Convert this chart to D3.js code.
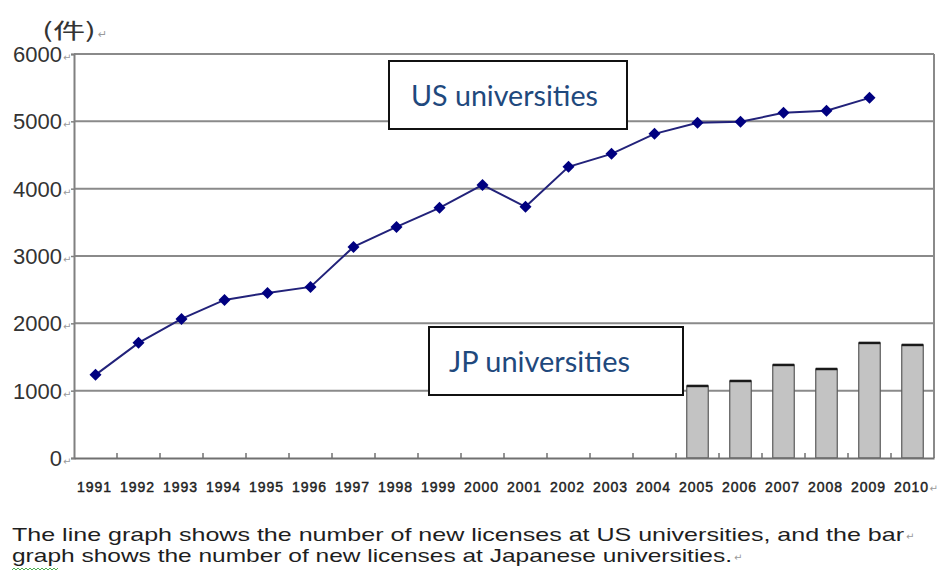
<!DOCTYPE html>
<html>
<head>
<meta charset="utf-8">
<script src="https://cdn.jsdelivr.net/npm/d3@7"></script>
<style>
  html, body { margin: 0; padding: 0; background: #fff; }
  svg { display: block; }
</style>
</head>
<body>
<svg id="chart" width="937" height="573"></svg>
<script>
// New licenses per year: US universities (line) and Japanese universities (bars)
const years = ["1991","1992","1993","1994","1995","1996","1997","1998","1999","2000",
               "2001","2002","2003","2004","2005","2006","2007","2008","2009","2010"];
const usYears = years.slice(0, 19);
const usLicenses = [1235, 1710, 2065, 2348, 2452, 2541, 3135, 3432, 3715, 4056,
                    3730, 4324, 4517, 4814, 4978, 4993, 5126, 5156, 5349];
const jpYears = ["2005","2006","2007","2008","2009","2010"];
const jpLicenses = [1070, 1144, 1382, 1322, 1709, 1679];
const yTicks = [0, 1000, 2000, 3000, 4000, 5000, 6000];
const unitLabel = "(件)";
const usLabel = "US universities";
const jpLabel = "JP universities";
const captionLines = [
  "The line graph shows the number of new licenses at US universities, and the bar",
  "graph shows the number of new licenses at Japanese  universities."
];
const RET = "\u21B5";

const svg = d3.select("#chart");
const plot = { left: 74, right: 934, top: 54, bottom: 458 };

const x = d3.scaleBand().domain(years).range([plot.left, plot.right]).padding(0);
const y = d3.scaleLinear().domain([0, 6000]).range([plot.bottom, plot.top]);
const cx = d => x(d) + x.bandwidth() / 2;

function retMark(px, py, size) {
  svg.append("text")
    .attr("x", px).attr("y", py)
    .attr("font-family", "DejaVu Sans, sans-serif")
    .attr("font-size", size)
    .attr("fill", "#9a9a9a")
    .text(RET);
}

// horizontal gridlines
svg.append("g")
  .selectAll("line")
  .data(yTicks.filter(v => v > 0))
  .join("line")
  .attr("x1", plot.left).attr("x2", plot.right)
  .attr("y1", d => y(d)).attr("y2", d => y(d))
  .attr("stroke", "#8a8a8a").attr("stroke-width", 2);

// right frame edge
svg.append("line")
  .attr("x1", plot.right).attr("x2", plot.right)
  .attr("y1", y(6000)).attr("y2", y(0))
  .attr("stroke", "#8a8a8a").attr("stroke-width", 2);

// y axis
const yAxis = svg.append("g")
  .attr("transform", `translate(${plot.left},0)`)
  .call(d3.axisLeft(y).tickValues(yTicks).tickSize(3).tickFormat(""));
yAxis.select(".domain").attr("stroke", "#808080").attr("stroke-width", 2);
yAxis.selectAll(".tick line").attr("stroke", "#808080").attr("stroke-width", 1.5);

// y tick labels with paragraph marks
const yLab = svg.append("g");
yTicks.forEach(v => {
  yLab.append("text")
    .attr("x", 62).attr("y", y(v) + 8)
    .attr("text-anchor", "end")
    .attr("font-family", "Liberation Sans, Arial, sans-serif")
    .attr("font-size", 22)
    .attr("fill", "#333")
    .text(d3.format("d")(v));
  retMark(63, y(v) + 7, 10);
});

// unit label
svg.append("text")
  .attr("x", 42).attr("y", 38)
  .attr("font-family", "Noto Sans CJK JP, sans-serif")
  .attr("font-size", 21)
  .attr("fill", "#333")
  .attr("textLength", 54)
  .attr("lengthAdjust", "spacingAndGlyphs")
  .text(unitLabel);
retMark(98, 38, 11);

// Japanese bars
const barW = x.bandwidth() * 0.5;
const jpData = jpYears.map((yr, i) => ({ yr, v: jpLicenses[i] }));
const bars = svg.append("g");
bars.selectAll("rect")
  .data(jpData)
  .join("rect")
  .attr("x", d => cx(d.yr) - barW / 2)
  .attr("y", d => y(d.v))
  .attr("width", barW)
  .attr("height", d => y(0) - y(d.v))
  .attr("fill", "#c3c3c3")
  .attr("stroke", "#5a5a5a")
  .attr("stroke-width", 1.2);
bars.selectAll("line")
  .data(jpData)
  .join("line")
  .attr("x1", d => cx(d.yr) - barW / 2)
  .attr("x2", d => cx(d.yr) + barW / 2)
  .attr("y1", d => y(d.v)).attr("y2", d => y(d.v))
  .attr("stroke", "#1a1a1a").attr("stroke-width", 2.5);

// x axis
const xAxis = svg.append("g")
  .attr("transform", `translate(0,${plot.bottom})`)
  .call(d3.axisBottom(x).tickSize(0).tickFormat(""));
xAxis.select(".domain").attr("stroke", "#707070").attr("stroke-width", 2);
svg.append("g")
  .selectAll("line")
  .data(years.slice(1))
  .join("line")
  .attr("x1", d => x(d)).attr("x2", d => x(d))
  .attr("y1", plot.bottom - 5).attr("y2", plot.bottom)
  .attr("stroke", "#707070").attr("stroke-width", 1.5);

// x labels
svg.append("g")
  .selectAll("text")
  .data(years)
  .join("text")
  .attr("x", d => cx(d) - 1)
  .attr("y", 492)
  .attr("text-anchor", "middle")
  .attr("font-family", "Liberation Sans, Arial, sans-serif")
  .attr("font-size", 14)
  .attr("letter-spacing", 1)
  .attr("fill", "#222")
  .attr("stroke", "#222")
  .attr("stroke-width", 0.45)
  .text(d => d);
retMark(cx("2010") + 17, 492, 10);

// US line
const line = d3.line().x(d => cx(d.yr)).y(d => y(d.v));
const usData = usYears.map((yr, i) => ({ yr, v: usLicenses[i] }));
svg.append("path")
  .datum(usData)
  .attr("d", line)
  .attr("fill", "none")
  .attr("stroke", "#22227a")
  .attr("stroke-width", 2);
svg.append("g")
  .selectAll("path")
  .data(usData)
  .join("path")
  .attr("d", d3.symbol(d3.symbolSquare, 72)())
  .attr("transform", d => `translate(${cx(d.yr)},${y(d.v)}) rotate(45)`)
  .attr("fill", "#000080");

// label boxes
function labelBox(x0, y0, w, h, text, tx, ty, tlen) {
  svg.append("rect")
    .attr("x", x0).attr("y", y0).attr("width", w).attr("height", h)
    .attr("fill", "#fff").attr("stroke", "#111").attr("stroke-width", 2);
  svg.append("text")
    .attr("x", tx).attr("y", ty)
    .attr("font-family", "Lato, Open Sans, sans-serif")
    .attr("font-size", 28)
    .attr("fill", "#1f497d")
    .attr("textLength", tlen)
    .attr("lengthAdjust", "spacingAndGlyphs")
    .text(text);
}
labelBox(389, 61, 238, 68, usLabel, 411, 106, 187);
labelBox(429, 327, 254, 68, jpLabel, 449, 372, 181);

// caption
const cap = svg.append("g")
  .attr("font-family", "Liberation Sans, Arial, sans-serif")
  .attr("font-size", 18.5)
  .attr("fill", "#1e1e1e");
cap.append("text").attr("x", 12).attr("y", 541)
  .attr("textLength", 892).attr("lengthAdjust", "spacingAndGlyphs")
  .text(captionLines[0]);
cap.append("text").attr("x", 12).attr("y", 562)
  .attr("textLength", 720).attr("lengthAdjust", "spacingAndGlyphs")
  .text(captionLines[1]);
retMark(906, 540, 10);
retMark(734, 561, 10);

// spelling squiggle under "graph"
const squiggle = d3.range(0, 24).map(i => [12 + i * 2, i % 2 ? 568 : 570]);
svg.append("path")
  .attr("d", d3.line()(squiggle))
  .attr("fill", "none").attr("stroke", "#4caf50").attr("stroke-width", 1);
</script>
</body>
</html>
